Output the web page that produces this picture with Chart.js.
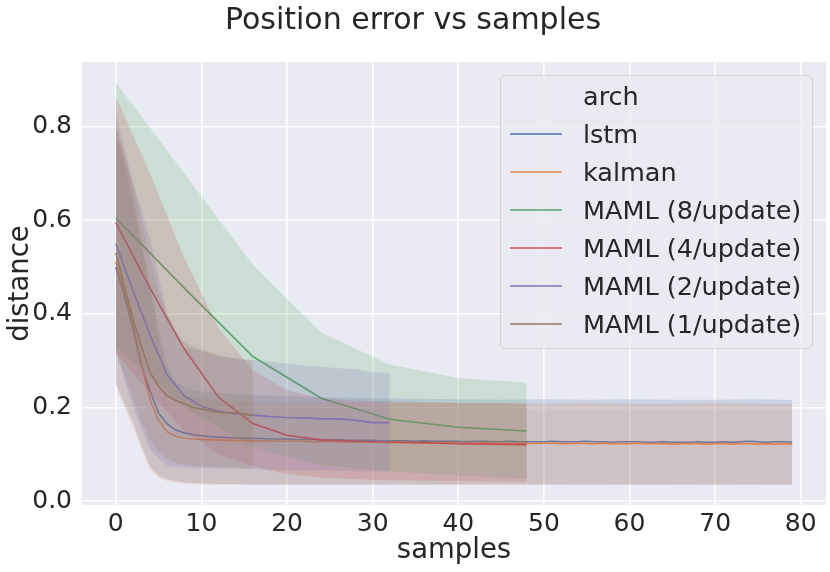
<!DOCTYPE html>
<html>
<head>
<meta charset="utf-8">
<script src="https://cdn.jsdelivr.net/npm/chart.js@4.4.0/dist/chart.umd.min.js"></script>
<style>
  html, body { margin: 0; padding: 0; background: #fff; }
</style>
</head>
<body>
<canvas id="chart" width="830" height="572"></canvas>
<script>
// samples axis for lstm / kalman means
const samplesAll = [0,1,2,3,4,5,6,7,8,9,10,11,12,13,14,15,16,17,18,19,20,21,22,23,24,25,26,27,28,29,
  30,31,32,33,34,35,36,37,38,39,40,41,42,43,44,45,46,47,48,49,50,51,52,53,54,55,56,57,58,59,
  60,61,62,63,64,65,66,67,68,69,70,71,72,73,74,75,76,77,78,79];

const lstmMean = [0.500,0.440,0.370,0.290,0.235,0.188,0.165,0.152,0.146,0.142,0.140,0.138,0.137,0.136,0.135,0.135,0.134,0.134,0.133,0.133,
  0.133,0.132,0.132,0.132,0.131,0.131,0.131,0.130,0.130,0.130,0.130,0.129,0.129,0.129,0.129,0.128,0.129,0.128,0.128,0.128,
  0.128,0.127,0.128,0.128,0.127,0.127,0.128,0.127,0.127,0.127,0.127,0.128,0.127,0.127,0.127,0.128,0.127,0.127,0.126,0.127,
  0.127,0.127,0.126,0.126,0.127,0.126,0.126,0.126,0.127,0.126,0.126,0.127,0.126,0.127,0.128,0.127,0.126,0.127,0.127,0.126];

const kalmanMean = [0.512,0.450,0.380,0.295,0.216,0.172,0.148,0.139,0.135,0.133,0.132,0.131,0.131,0.130,0.130,0.130,0.129,0.129,0.129,0.128,
  0.128,0.128,0.128,0.127,0.127,0.127,0.127,0.126,0.126,0.126,0.126,0.126,0.125,0.126,0.125,0.125,0.125,0.125,0.124,0.125,
  0.124,0.124,0.124,0.125,0.124,0.124,0.123,0.124,0.124,0.123,0.124,0.124,0.123,0.123,0.124,0.123,0.123,0.124,0.123,0.123,
  0.123,0.124,0.123,0.123,0.123,0.122,0.123,0.123,0.123,0.122,0.123,0.123,0.122,0.123,0.123,0.122,0.123,0.122,0.123,0.122];

// confidence bands for lstm / kalman
const bandSamples = [0,1,2,3,4,5,6,7,8,9,10,12,14,16,20,25,30,35,40,45,50,55,60,65,70,75,79];
const lstmUpper = [0.78,0.72,0.64,0.55,0.46,0.37,0.29,0.255,0.243,0.238,0.235,0.231,0.229,0.227,0.225,0.222,0.220,0.219,0.218,0.217,0.218,0.217,0.218,0.217,0.217,0.218,0.216];
const lstmLower = [0.25,0.21,0.17,0.12,0.075,0.055,0.047,0.043,0.040,0.039,0.038,0.037,0.037,0.036,0.036,0.036,0.036,0.036,0.036,0.036,0.036,0.035,0.036,0.036,0.035,0.036,0.036];
const kalmanUpper = [0.80,0.74,0.66,0.56,0.45,0.35,0.27,0.24,0.228,0.222,0.219,0.216,0.214,0.213,0.212,0.211,0.211,0.210,0.210,0.210,0.209,0.210,0.209,0.209,0.210,0.209,0.209];
const kalmanLower = [0.25,0.20,0.16,0.11,0.068,0.050,0.043,0.040,0.038,0.037,0.036,0.035,0.035,0.035,0.035,0.035,0.035,0.035,0.035,0.035,0.035,0.035,0.035,0.035,0.035,0.035,0.035];

// MAML (8/update)
const maml8Samples = [0,8,16,24,32,40,48];
const maml8Mean = [0.605,0.455,0.309,0.220,0.175,0.158,0.150];
const maml8Upper = [0.895,0.700,0.505,0.360,0.292,0.263,0.253];
const maml8Lower = [0.330,0.200,0.116,0.077,0.064,0.055,0.048];

// MAML (4/update)
const maml4Samples = [0,4,8,12,16,20,24,28,32,36,40,44,48];
const maml4Mean = [0.595,0.455,0.325,0.222,0.166,0.141,0.131,0.128,0.126,0.125,0.123,0.122,0.121];
const maml4Upper = [0.865,0.700,0.520,0.370,0.280,0.237,0.220,0.215,0.213,0.212,0.210,0.210,0.208];
const maml4Lower = [0.316,0.230,0.150,0.100,0.075,0.058,0.050,0.047,0.045,0.044,0.043,0.042,0.041];

// MAML (2/update)
const maml2Samples = [0,2,4,6,8,10,12,14,16,18,20,22,24,26,28,30,32];
const maml2Mean = [0.550,0.450,0.355,0.270,0.225,0.203,0.192,0.187,0.184,0.181,0.179,0.178,0.176,0.176,0.173,0.168,0.168];
const maml2Upper = [0.830,0.680,0.560,0.400,0.330,0.320,0.310,0.305,0.302,0.298,0.294,0.290,0.287,0.284,0.282,0.276,0.274];
const maml2Lower = [0.320,0.200,0.110,0.076,0.072,0.071,0.070,0.070,0.069,0.068,0.067,0.066,0.066,0.065,0.064,0.064,0.063];

// MAML (1/update)
const maml1Samples = [0,1,2,3,4,5,6,7,8,9,10,11,12,13,14,15,16];
const maml1Mean = [0.530,0.460,0.390,0.330,0.275,0.245,0.225,0.215,0.208,0.200,0.197,0.193,0.190,0.189,0.189,0.186,0.184];
const maml1Upper = [0.800,0.740,0.680,0.600,0.520,0.450,0.400,0.360,0.340,0.330,0.325,0.318,0.312,0.308,0.305,0.302,0.300];
const maml1Lower = [0.320,0.270,0.220,0.170,0.130,0.105,0.090,0.082,0.078,0.076,0.075,0.074,0.073,0.072,0.072,0.071,0.070];

const archLabels = ['lstm', 'kalman', 'MAML (8/update)', 'MAML (4/update)', 'MAML (2/update)', 'MAML (1/update)'];
const archColors = ['76,114,176', '221,132,82', '85,168,104', '196,78,82', '129,114,179', '147,120,96'];
const textColor = '#262626';

Chart.defaults.font.family = 'DejaVu Sans';
Chart.defaults.color = textColor;

let datasets = [];
let drawOrder = 100;

function pts(xs, ys) {
    return xs.map((x, i) => ({ x: x, y: ys[i] }));
}

// seaborn draws the line first, then its band on top
function addArch(label, lineX, mean, bandX, upper, lower, rgb) {
    datasets.push({
        label: label,
        data: pts(lineX, mean),
        borderColor: 'rgb(' + rgb + ')',
        borderWidth: 1.6,
        pointRadius: 0,
        fill: false,
        order: drawOrder--
    });
    const upperIdx = datasets.length;
    datasets.push({
        label: label + ' upper',
        data: pts(bandX, upper),
        borderColor: 'rgba(0,0,0,0)',
        borderWidth: 0,
        pointRadius: 0,
        backgroundColor: 'rgba(' + rgb + ',0.2)',
        fill: upperIdx + 1,
        order: drawOrder--
    });
    datasets.push({
        label: label + ' lower',
        data: pts(bandX, lower),
        borderColor: 'rgba(0,0,0,0)',
        borderWidth: 0,
        pointRadius: 0,
        fill: false,
        order: drawOrder--
    });
}

addArch(archLabels[0], samplesAll, lstmMean, bandSamples, lstmUpper, lstmLower, archColors[0]);
addArch(archLabels[1], samplesAll, kalmanMean, bandSamples, kalmanUpper, kalmanLower, archColors[1]);
addArch(archLabels[2], maml8Samples, maml8Mean, maml8Samples, maml8Upper, maml8Lower, archColors[2]);
addArch(archLabels[3], maml4Samples, maml4Mean, maml4Samples, maml4Upper, maml4Lower, archColors[3]);
addArch(archLabels[4], maml2Samples, maml2Mean, maml2Samples, maml2Upper, maml2Lower, archColors[4]);
addArch(archLabels[5], maml1Samples, maml1Mean, maml1Samples, maml1Upper, maml1Lower, archColors[5]);

const plotBackground = {
    id: 'plotBackground',
    beforeDraw(chart) {
        const a = chart.chartArea;
        const c = chart.ctx;
        c.save();
        c.fillStyle = '#eaeaf2';
        c.fillRect(a.left, a.top, a.right - a.left, a.bottom - a.top);
        c.restore();
    }
};

// legend box inside the axes, like seaborn's
const archLegend = {
    id: 'archLegend',
    afterDraw(chart) {
        const c = chart.ctx;
        const bx = 500, by = 75, bw = 312, bh = 273, r = 5;
        c.save();
        c.beginPath();
        c.roundRect(bx + 0.5, by + 0.5, bw, bh, r);
        c.fillStyle = 'rgba(234,234,242,0.8)';
        c.fill();
        c.strokeStyle = 'rgba(204,204,204,0.8)';
        c.lineWidth = 1;
        c.stroke();
        c.font = '25.5px "DejaVu Sans"';
        c.fillStyle = textColor;
        c.textBaseline = 'alphabetic';
        c.textAlign = 'left';
        c.fillText('arch', 583, 105);
        archLabels.forEach((lab, i) => {
            const base = 143 + i * 38;
            c.strokeStyle = 'rgb(' + archColors[i] + ')';
            c.lineWidth = 1.6;
            c.beginPath();
            c.moveTo(510, base - 9);
            c.lineTo(562, base - 9);
            c.stroke();
            c.fillText(lab, 583, base);
        });
        c.restore();
    }
};

const ctx = document.getElementById('chart');

new Chart(ctx, {
    type: 'line',
    data: { datasets: datasets },
    options: {
        responsive: false,
        animation: false,
        layout: { padding: { left: 0, right: 4, top: 0, bottom: 0 } },
        plugins: {
            legend: { display: false },
            tooltip: { enabled: false },
            filler: { drawTime: 'beforeDatasetDraw' },
            title: {
                display: true,
                text: 'Position error vs samples',
                color: textColor,
                font: { size: 30, weight: 'normal' },
                padding: { top: 3, bottom: 23 }
            }
        },
        scales: {
            x: {
                type: 'linear',
                min: -3.95,
                max: 82.95,
                ticks: { stepSize: 10, includeBounds: false, font: { size: 25 }, color: textColor, padding: 4 },
                grid: { color: '#ffffff', lineWidth: 1.6, drawTicks: false },
                border: { display: false },
                title: { display: true, text: 'samples', color: textColor, font: { size: 27.5 }, padding: { top: 0, bottom: 4.5 } },
                afterFit: function (scale) { scale.height = 67; }
            },
            y: {
                type: 'linear',
                min: -0.008,
                max: 0.938,
                ticks: {
                    stepSize: 0.2,
                    includeBounds: false,
                    font: { size: 25 },
                    color: textColor,
                    padding: 10,
                    callback: function (v) { return v.toFixed(1); }
                },
                grid: { color: '#ffffff', lineWidth: 1.6, drawTicks: false },
                border: { display: false },
                title: { display: true, text: 'distance', color: textColor, font: { size: 27.5 }, padding: { top: 4.5, bottom: 0 } },
                afterFit: function (scale) { scale.width = 82; }
            }
        }
    },
    plugins: [plotBackground, archLegend]
});
</script>
</body>
</html>
